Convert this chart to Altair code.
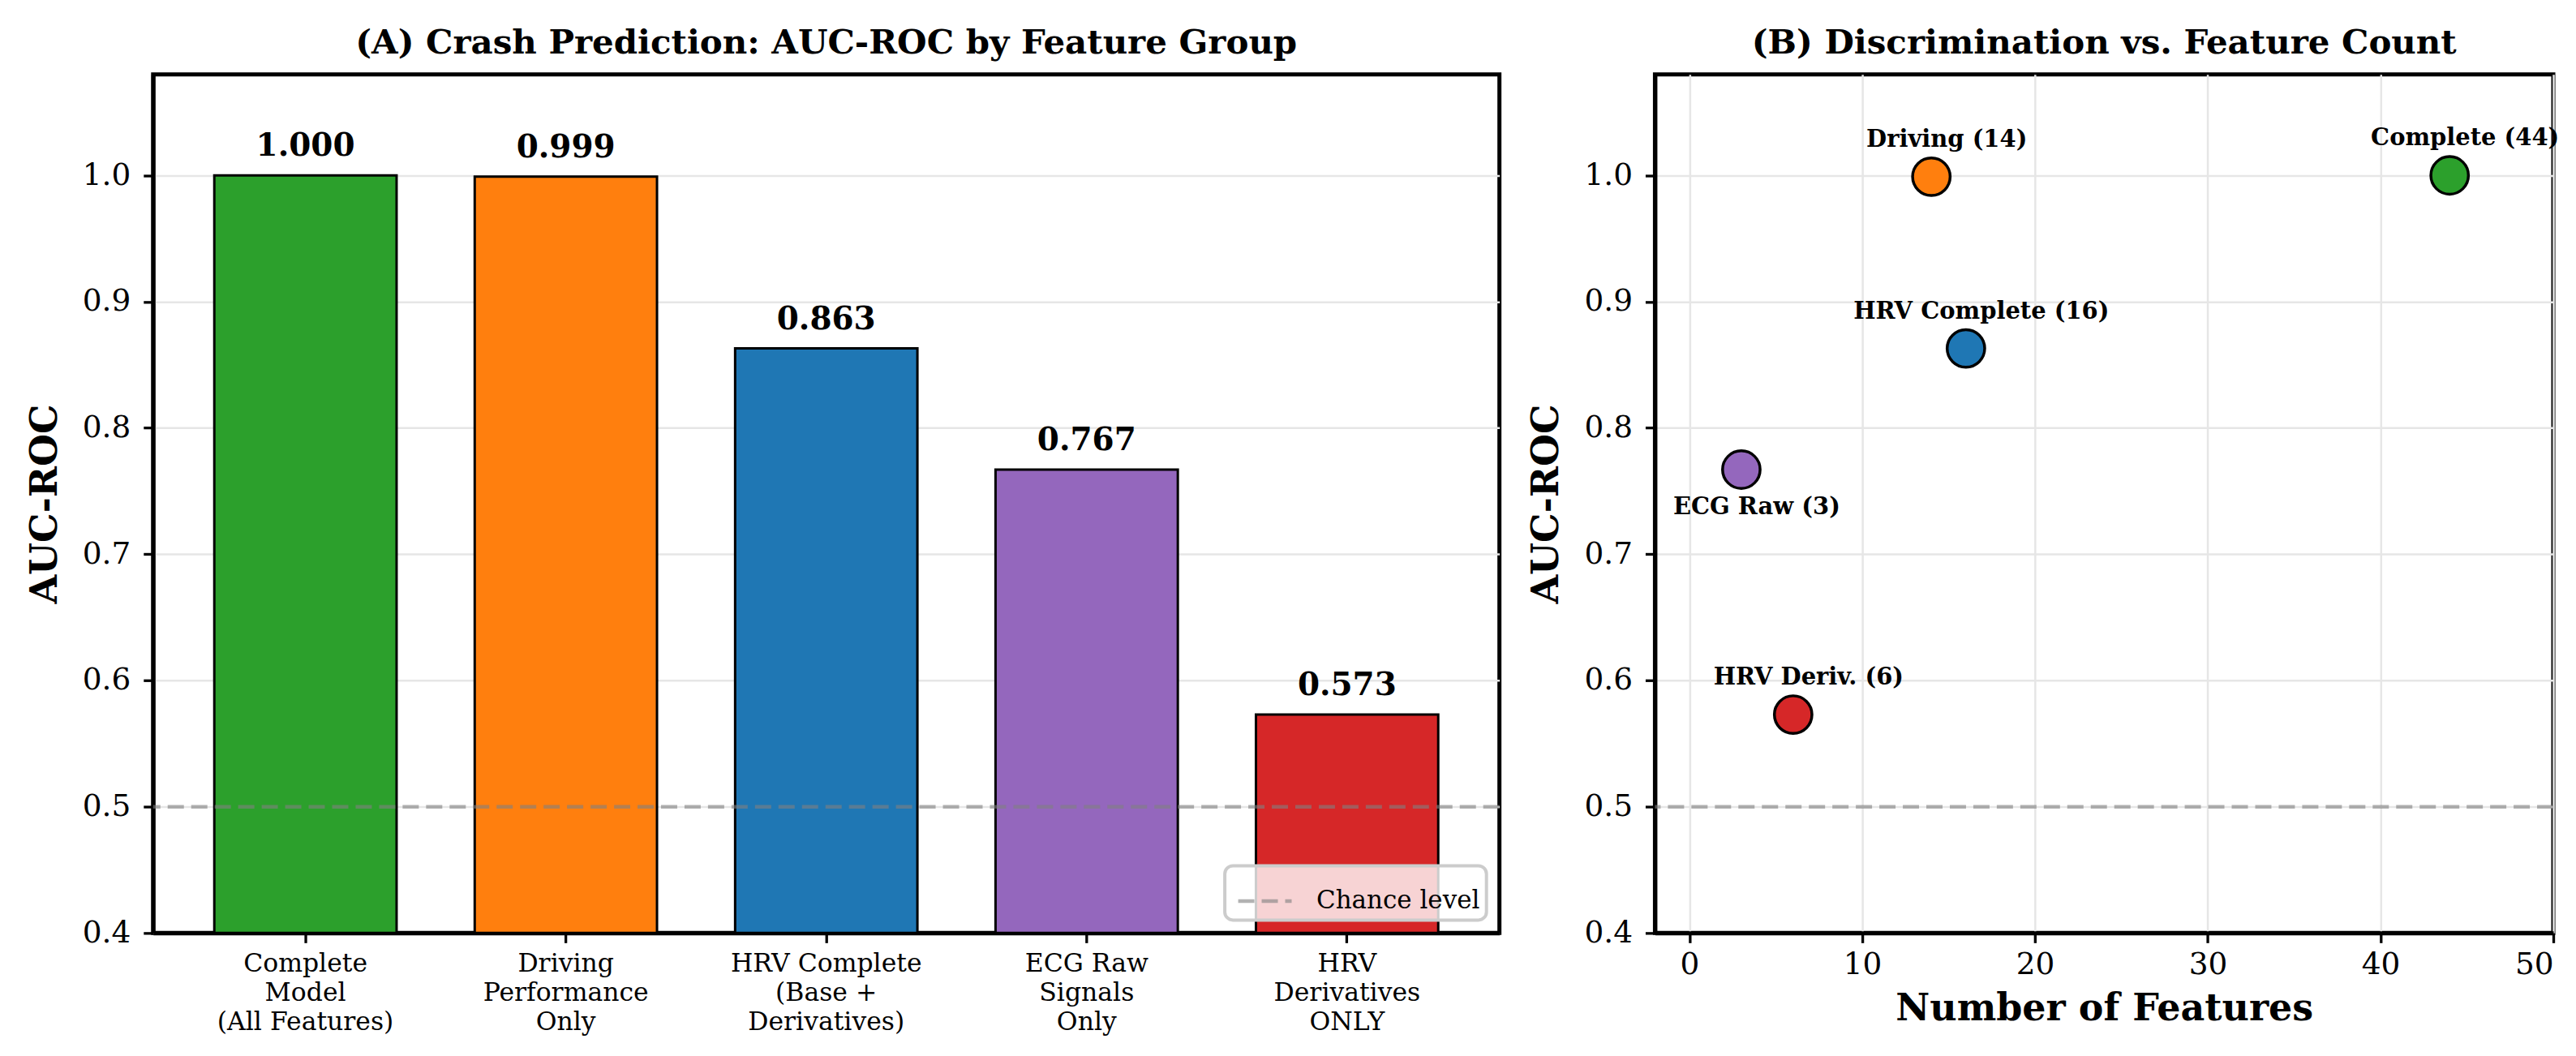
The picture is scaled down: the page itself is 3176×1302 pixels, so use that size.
import altair as alt
import pandas as pd

# ---------------- data ----------------
groups = [
    "Complete\nModel\n(All Features)",
    "Driving\nPerformance\nOnly",
    "HRV Complete\n(Base +\nDerivatives)",
    "ECG Raw\nSignals\nOnly",
    "HRV\nDerivatives\nONLY",
]
auc = [1.000, 0.999, 0.863, 0.767, 0.573]
colors = ["#2ca02c", "#ff7f0e", "#1f77b4", "#9467bd", "#d62728"]

scatter_labels = ["Complete (44)", "Driving (14)", "HRV Complete (16)", "ECG Raw (3)", "HRV Deriv. (6)"]
n_features = [44, 14, 16, 3, 6]
label_pos = ["above", "above", "above", "below", "above"]

chance_name = ["Chance level"]
chance_value = [0.5]

y_ticks = [0.4, 0.5, 0.6, 0.7, 0.8, 0.9, 1.0]
x_ticks = [0, 10, 20, 30, 40, 50]

FONT = "DejaVu Serif"

bar_df = pd.DataFrame({"group": groups, "auc": auc, "color": colors})
chance_df = pd.DataFrame({"name": chance_name, "auc": chance_value})
sc_df = pd.DataFrame({"label": scatter_labels, "n": n_features, "auc": auc,
                      "color": colors, "pos": label_pos})

yscale = alt.Scale(domain=[0.4, 1.08], nice=False, zero=False)
yaxis = alt.Axis(values=y_ticks, format=".1f", title="AUC-ROC", grid=True)

# ---------------- panel A ----------------
xband = alt.X(
    "group:N", sort=groups,
    scale=alt.Scale(paddingInner=0.3, paddingOuter=0.235),
    axis=alt.Axis(title=None, labelAngle=0, labelExpr="split(datum.label, '\\n')",
                  grid=False, labelFontSize=31.5, labelLineHeight=36, labelPadding=10,
                  labelBaseline="top", labelLimit=0),
)

bars = alt.Chart(bar_df).mark_bar(stroke="black", strokeWidth=3, opacity=1).encode(
    x=xband,
    y=alt.Y("auc:Q", scale=yscale, axis=yaxis),
    y2=alt.datum(0.4),
    fill=alt.Fill("color:N", scale=None),
)

bar_text = alt.Chart(bar_df).mark_text(
    fontSize=39, fontWeight="bold", baseline="alphabetic", dy=-24, font=FONT, color="black"
).encode(
    x=xband,
    y=alt.Y("auc:Q", scale=yscale, axis=yaxis),
    text=alt.Text("auc:Q", format=".3f"),
)

rule_a = alt.Chart(chance_df).mark_rule(strokeDash=[20, 9], strokeWidth=4.5, opacity=0.6).encode(
    y=alt.Y("auc:Q", scale=yscale, axis=yaxis),
    color=alt.Color(
        "name:N",
        scale=alt.Scale(domain=chance_name, range=["#808080"]),
        legend=alt.Legend(
            title=None, orient="bottom-right", offset=16,
            symbolType="stroke", symbolDash=[20, 9], symbolStrokeWidth=4.5,
            symbolSize=4356, symbolOpacity=0.6, symbolOffset=6,
            labelFontSize=31, labelFont=FONT, labelColor="black", labelOffset=28,
            labelLimit=0,
            fillColor="rgba(255,255,255,0.8)", strokeColor="#cccccc",
            cornerRadius=10, padding=8,
        ),
    ),
)

left = alt.layer(bars, bar_text, rule_a).properties(
    width=1662, height=1060, title="(A) Crash Prediction: AUC-ROC by Feature Group"
)

# ---------------- panel B ----------------
xq = alt.X("n:Q", scale=alt.Scale(domain=[-2, 50], nice=False, zero=False),
           axis=alt.Axis(values=x_ticks, title="Number of Features", grid=True,
                         labelPadding=8, titlePadding=14))

rule_b = alt.Chart(chance_df).mark_rule(
    strokeDash=[20, 9], strokeWidth=4.5, opacity=0.6, color="#808080"
).encode(y=alt.Y("auc:Q", scale=yscale, axis=yaxis))

pts = alt.Chart(sc_df).mark_circle(size=2150, stroke="black", strokeWidth=3.5, opacity=1).encode(
    x=xq,
    y=alt.Y("auc:Q", scale=yscale, axis=yaxis),
    fill=alt.Fill("color:N", scale=None),
)

lab_above = alt.Chart(sc_df).transform_filter(alt.datum.pos == "above").mark_text(
    dx=19, dy=-46, fontSize=29, fontWeight="bold", font=FONT, color="black", baseline="middle"
).encode(x=xq, y=alt.Y("auc:Q", scale=yscale, axis=yaxis), text="label:N")

lab_below = alt.Chart(sc_df).transform_filter(alt.datum.pos == "below").mark_text(
    dx=19, dy=46, fontSize=29, fontWeight="bold", font=FONT, color="black", baseline="middle"
).encode(x=xq, y=alt.Y("auc:Q", scale=yscale, axis=yaxis), text="label:N")

right = alt.layer(rule_b, pts, lab_above, lab_below).properties(
    width=1109, height=1060, title="(B) Discrimination vs. Feature Count"
)

chart = alt.hconcat(
    left, right, spacing=27,
    padding={"left": 21, "top": 20, "right": 10, "bottom": 10},
).resolve_scale(color="independent").resolve_legend(color="independent").configure(
    font=FONT
).configure_view(
    stroke="black", strokeWidth=5
).configure_axis(
    labelFont=FONT, titleFont=FONT, labelFontSize=37.5, labelColor="black",
    titleColor="black", titleFontSize=46, titleFontWeight="bold",
    tickColor="black", tickWidth=3.3, tickSize=12,
    domainColor="black", domainWidth=5,
    gridColor="#e6e6e6", gridWidth=2.5,
    labelPadding=16, titlePadding=22,
).configure_legend(
    strokeWidth=4
).configure_title(
    font=FONT, fontSize=42, fontWeight="bold", color="black",
    anchor="middle", frame="group", offset=17,
)

chart.save("out.html", embed_options={"renderer": "svg", "actions": False})
